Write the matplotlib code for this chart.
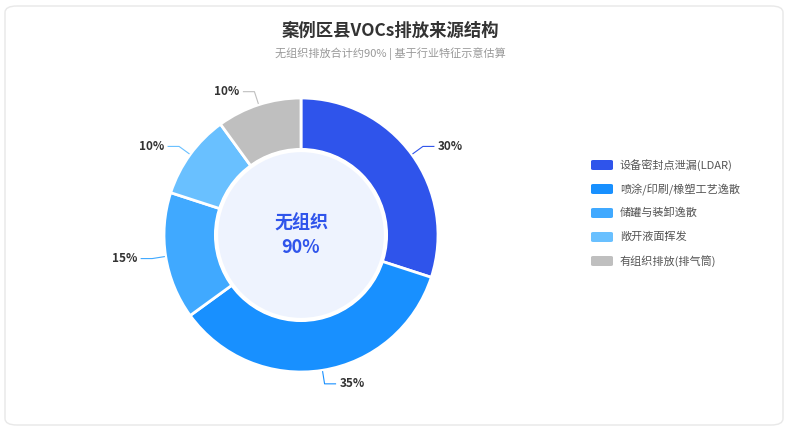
import numpy as np
import matplotlib.pyplot as plt
from matplotlib.patches import FancyBboxPatch, Circle

plt.rcParams['font.family'] = ['Noto Sans CJK SC', 'DejaVu Sans']

categories = ['设备密封点泄漏(LDAR)', '喷涂/印刷/橡塑工艺逸散', '储罐与装卸逸散', '敞开液面挥发', '有组织排放(排气筒)']
shares = [30, 35, 15, 10, 10]
colors = ['#2F54EB', '#1890FF', '#40A9FF', '#69C0FF', '#BFBFBF']

W, H = 789, 429
fig = plt.figure(figsize=(W / 100, H / 100), dpi=100)
# card background sits behind the axes
fig.patches.append(FancyBboxPatch((5 / W, 4 / H), 778 / W, 419 / H,
                                  boxstyle='round,pad=0,rounding_size=0.015',
                                  transform=fig.transFigure, fc='white', ec='#E8E8E8', lw=1,
                                  zorder=-5))

fig.text(390 / W, 1 - 31 / H, '案例区县VOCs排放来源结构', ha='center', va='center',
         fontsize=12.5, fontweight='bold', color='#333333')
fig.text(390 / W, 1 - 54 / H, '无组织排放合计约90% | 基于行业特征示意估算', ha='center', va='center',
         fontsize=8, color='#999999')

# donut
cx, cy, R = 301, 235, 137
ax = fig.add_axes([(cx - R) / W, (H - cy - R) / H, 2 * R / W, 2 * R / H], zorder=2)
ax.set_xlim(-1, 1)
ax.set_ylim(-1, 1)
ax.set_aspect('equal')
ax.axis('off')
wedges, _ = ax.pie(shares, colors=colors, startangle=90, counterclock=False, radius=1,
                   wedgeprops=dict(width=0.38, edgecolor='white', linewidth=2))
ax.set_xlim(-1, 1)
ax.set_ylim(-1, 1)
ax.add_patch(Circle((0, 0), 0.62, fc='#EEF3FE', ec='white', lw=3, zorder=5))
ax.text(0, 0.09, '无组织', ha='center', va='center', fontsize=13, fontweight='bold', color='#2F54EB', zorder=6)
ax.text(0, -0.09, '90%', ha='center', va='center', fontsize=13, fontweight='bold', color='#2F54EB', zorder=6)

for w, s, c in zip(wedges, shares, colors):
    ang = np.deg2rad((w.theta1 + w.theta2) / 2)
    x0, y0 = np.cos(ang) * 1.01, np.sin(ang) * 1.01
    x1, y1 = np.cos(ang) * 1.1, np.sin(ang) * 1.1
    sgn = 1 if np.cos(ang) >= 0 else -1
    x2 = x1 + sgn * 0.08
    ax.plot([x0, x1, x2], [y0, y1, y1], color=c, lw=0.8, clip_on=False)
    ax.text(x2 + sgn * 0.03, y1, f'{s}%', ha='left' if sgn > 0 else 'right', va='center',
            fontsize=8.5, fontweight='bold', color='#333333')

# legend
for i, (lab, c) in enumerate(zip(categories, colors)):
    y = 1 - (165 + i * 24) / H
    fig.patches.append(FancyBboxPatch((591 / W, y - 5 / H), 22 / W, 10 / H,
                                      boxstyle='round,pad=0,rounding_size=0.003',
                                      transform=fig.transFigure, fc=c, ec='none'))
    fig.text(620 / W, y, lab, ha='left', va='center', fontsize=8, color='#555555')

fig.savefig('out.png', dpi=100)
